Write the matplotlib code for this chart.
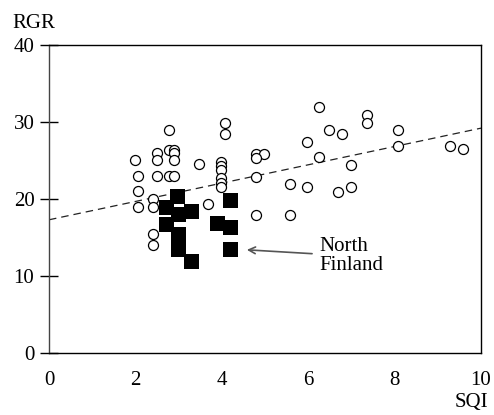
import numpy as np
import matplotlib
matplotlib.use("Agg")
from matplotlib import pyplot as plt

plt.rcParams['font.family'] = ['Liberation Serif', 'DejaVu Serif']

# open circles: other sites
sqi_open = [1.99, 2.07, 2.07, 2.07, 2.40, 2.40, 2.40, 2.40, 2.49, 2.49,
            2.49, 2.78, 2.78, 2.90, 2.90, 2.90, 2.78, 2.90, 3.47, 3.69,
            3.98, 3.98, 3.98, 3.98, 3.98, 3.98, 4.08, 4.08, 4.80, 4.98,
            4.80, 4.80, 4.79, 5.58, 5.58, 5.97, 5.98, 6.25, 6.25, 6.49,
            6.79, 6.68, 6.98, 6.98, 7.37, 7.37, 8.09, 8.09, 9.28, 9.58]
rgr_open = [25.0, 23.0, 21.0, 18.9, 20.0, 18.9, 15.4, 14.0, 26.0, 25.0,
            23.0, 28.9, 26.4, 26.4, 26.0, 25.0, 23.0, 23.0, 24.5, 19.4,
            24.8, 24.3, 23.8, 22.7, 22.1, 21.5, 29.9, 28.5, 25.8, 25.9,
            25.3, 22.9, 17.9, 21.9, 17.9, 27.4, 21.5, 31.9, 25.4, 28.9,
            28.4, 20.9, 24.4, 21.5, 30.9, 29.9, 28.9, 26.9, 26.9, 26.5]

# filled squares: North Finland
sqi_north = [2.97, 2.70, 2.70, 2.99, 3.29, 2.99, 2.99, 3.29, 4.19, 3.90, 4.19, 4.19]
rgr_north = [20.4, 18.9, 16.7, 18.1, 18.5, 15.5, 13.5, 11.9, 19.9, 16.9, 16.4, 13.5]

# regression line end points
trend_x = [0, 10]
trend_y = [17.3, 29.2]

fig = plt.figure(figsize=(4.94, 4.15), dpi=100)
ax = fig.add_axes([49/494, 1 - 353/415, 432/494, 308/415])

ax.plot(trend_x, trend_y, color='#222222', lw=0.9, dashes=(6, 4), zorder=1)
ax.plot(sqi_open, rgr_open, 'o', ms=7.2, mfc='white', mec='black', mew=0.9, ls='none', zorder=2)
ax.plot(sqi_north, rgr_north, 's', ms=10.8, mfc='black', mec='black', mew=0, ls='none', zorder=3)

ax.annotate('North\nFinland', xy=(4.58, 13.4), xytext=(6.25, 12.6),
            ha='left', va='center', fontsize=15, linespacing=1.0,
            arrowprops=dict(arrowstyle='->', color='#555555', lw=1.2,
                            shrinkA=3, shrinkB=0, mutation_scale=12))

ax.set_xlim(0, 10)
ax.set_ylim(0, 40)
ax.set_xticks([0, 2, 4, 6, 8, 10])
ax.set_yticks([0, 10, 20, 30, 40])
ax.tick_params(axis='x', length=0, pad=13, labelsize=15)
ax.tick_params(axis='y', direction='inout', length=13, width=1, pad=4, labelsize=15)
for s in ax.spines.values():
    s.set_linewidth(1)
ax.spines['left'].set_color('#444444')

fig.text(34/494, 1 - 23/415, 'RGR', ha='center', va='center', fontsize=15)
fig.text(471/494, 1 - 402/415, 'SQI', ha='center', va='center', fontsize=15)

fig.savefig('out.png', dpi=100)
